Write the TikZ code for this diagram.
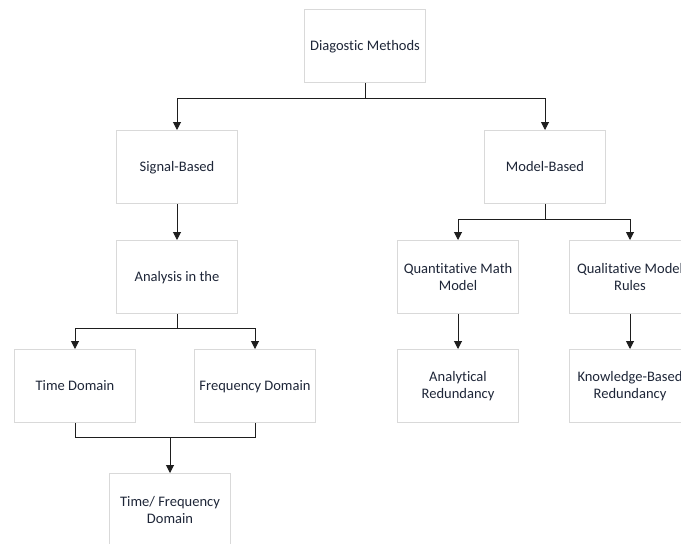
\documentclass[tikz,border=0pt]{standalone}
\usepackage{fontspec}
\setmainfont{Carlito}[Ligatures={NoCommon}]
\usepackage{xcolor}
\usepackage{tikz}
\usetikzlibrary{arrows.meta}

\definecolor{boxline}{RGB}{217,217,217}
\definecolor{boxtext}{RGB}{30,38,56}
\definecolor{linkline}{RGB}{30,30,30}

\begin{document}
\begin{tikzpicture}[x=0.75pt,y=0.75pt,yscale=-1,xscale=1,
  box/.style={draw=boxline,line width=0.75pt,fill=white,text=boxtext,
    minimum width=90.75pt,minimum height=54.75pt,inner sep=0pt,align=center,
    font=\fontsize{10.9}{12.75}\selectfont},
  oneline/.style={box,text height=9pt,text depth=2pt},
  link/.style={draw=linkline,line width=0.75pt},
  arr/.style={link,-{Triangle[length=6pt,width=6pt]}}]
\useasboundingbox (0,0) rectangle (681,543);
\clip (0,0) rectangle (681,543);

%Shape: Rectangle [id:top]
\node[oneline] (diag) at (365,46) {Diagostic Methods};
%Shape: Rectangle [id:signal]
\node[oneline] (sig) at (177,167) {Signal-Based};
%Shape: Rectangle [id:model]
\node[oneline] (mod) at (545,167) {Model-Based};
%Shape: Rectangle [id:analysis]
\node[oneline] (ana) at (177,277) {Analysis in the};
%Shape: Rectangle [id:time]
\node[oneline] (tdom) at (75,386) {Time Domain};
%Shape: Rectangle [id:freq]
\node[oneline] (fdom) at (255,386) {Frequency Domain};
%Shape: Rectangle [id:timefreq]
\node[box] (tfdom) at (170,510) {Time/ Frequency\\Domain};
%Shape: Rectangle [id:quant]
\node[box] (quant) at (458,277) {Quantitative Math\\Model};
%Shape: Rectangle [id:qual]
\node[box] (qual) at (630,277) {Qualitative Model\\Rules};
%Shape: Rectangle [id:analyt]
\node[box] (anred) at (458,386) {Analytical\\Redundancy};
%Shape: Rectangle [id:know]
\node[box] (knred) at (630,386) {Knowledge-Based\\Redundancy};

% Junction points
\coordinate (j1) at (365,98);
\coordinate (j2) at (177,328);
\coordinate (j3) at (170,437);
\coordinate (j4) at (545,219);

%Straight Lines [id:top split]
\draw[link] (diag.south) -- (j1);
\draw[arr] (j1) -| (sig.north);
\draw[arr] (j1) -| (mod.north);
%Straight Lines [id:signal branch]
\draw[arr] (sig) -- (ana);
\draw[link] (ana.south) -- (j2);
\draw[arr] (j2) -| (tdom.north);
\draw[arr] (j2) -| (fdom.north);
%Straight Lines [id:merge]
\draw[link] (tdom.south) |- (j3);
\draw[link] (fdom.south) |- (j3);
\draw[arr] (j3) -- (tfdom.north);
%Straight Lines [id:model branch]
\draw[link] (mod.south) -- (j4);
\draw[arr] (j4) -| (quant.north);
\draw[arr] (j4) -| (qual.north);
\draw[arr] (quant) -- (anred);
\draw[arr] (qual) -- (knred);
\end{tikzpicture}
\end{document}
